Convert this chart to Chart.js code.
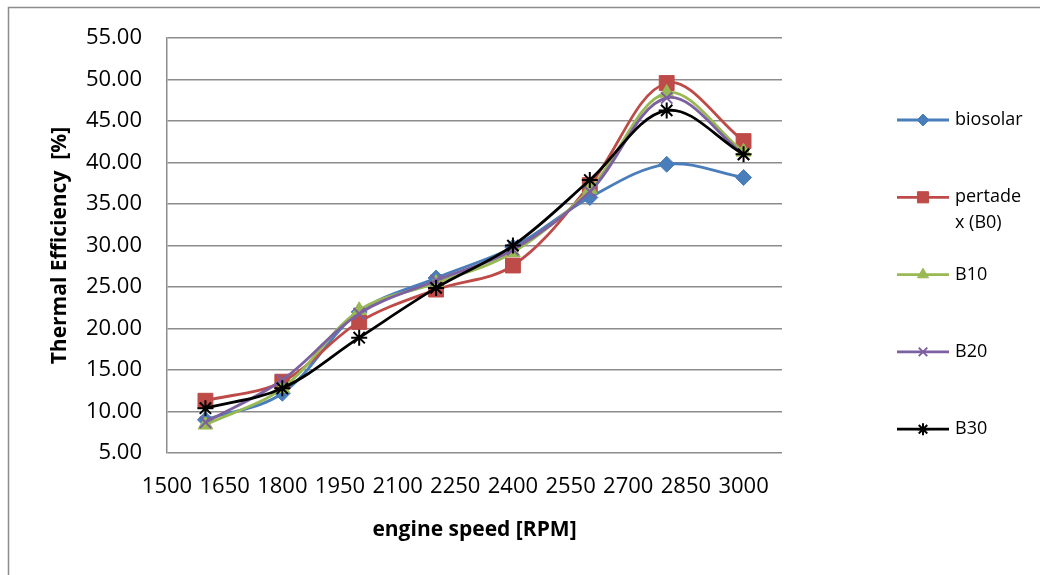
<!DOCTYPE html>
<html lang="en">
<head>
    <meta charset="UTF-8">
    <title>Thermal Efficiency vs Engine Speed</title>
    <style>
        body {
            margin: 0;
            background: #ffffff;
        }

        .chart-box {
            position: relative;
            width: 1040px;
            height: 575px;
        }
    </style>
</head>
<body>
    <div class="chart-box">
        <canvas id="efficiencyChart" width="1040" height="575"></canvas>
    </div>

    <script src="https://cdn.jsdelivr.net/npm/chart.js"></script>
    <script>
        // engine speed (RPM) for every measured point
        const rpm = [1600, 1800, 2000, 2200, 2400, 2600, 2800, 3000];

        // tick labels shown under the x axis
        const xTicks = [1500, 1650, 1800, 1950, 2100, 2250, 2400, 2550, 2700, 2850, 3000];

        const seriesNames = ["biosolar", "pertadex (B0)", "B10", "B20", "B30"];

        // thermal efficiency [%]
        const biosolar = [9.0, 12.2, 22.0, 26.1, 29.8, 35.8, 39.8, 38.2];
        const pertadex = [11.3, 13.6, 20.8, 24.7, 27.6, 37.3, 49.6, 42.6];
        const b10 = [8.4, 12.8, 22.2, 25.5, 29.2, 36.8, 48.4, 41.3];
        const b20 = [8.7, 13.8, 21.8, 25.8, 29.5, 36.5, 47.8, 41.0];
        const b30 = [10.4, 12.8, 18.9, 24.9, 30.0, 37.9, 46.3, 41.0];

        const gridGray = "#8c8c8c";
        const fontFamily = "'Open Sans', 'DejaVu Sans', sans-serif";

        const styles = [
            { color: "#4a7ebb", point: "rectRot", radius: 8 },
            { color: "#be4b48", point: "rect", radius: 10.5 },
            { color: "#98b954", point: "triangle", radius: 8.5 },
            { color: "#7d60a0", point: "crossRot", radius: 8 },
            { color: "#000000", point: "star", radius: 8 }
        ];

        const allValues = [biosolar, pertadex, b10, b20, b30];

        const datasets = allValues.map((values, i) => ({
            label: seriesNames[i],
            data: values.map((v, j) => ({ x: rpm[j], y: v })),
            borderColor: styles[i].color,
            backgroundColor: styles[i].color,
            pointStyle: styles[i].point,
            pointRadius: styles[i].radius,
            pointBorderWidth: styles[i].point === "crossRot" || styles[i].point === "star" ? 2 : 1,
            borderWidth: 2.8,
            tension: 0.35,
            fill: false,
            order: allValues.length - i
        }));

        // frame around the whole chart
        const framePlugin = {
            id: "frame",
            beforeDraw(chart) {
                const ctx = chart.ctx;
                ctx.save();
                ctx.strokeStyle = gridGray;
                ctx.lineWidth = 1.5;
                ctx.beginPath();
                ctx.moveTo(8.5, chart.height + 5);
                ctx.lineTo(8.5, 7.5);
                ctx.lineTo(chart.width + 5, 7.5);
                ctx.stroke();
                ctx.restore();
            }
        };

        function wrapText(ctx, text, maxWidth) {
            const lines = [];
            let line = "";
            for (const ch of text) {
                const test = line + ch;
                if (ctx.measureText(test).width > maxWidth && line !== "") {
                    lines.push(line.trimEnd());
                    line = ch === " " ? "" : ch;
                } else {
                    line = test;
                }
            }
            if (line) lines.push(line);
            return lines;
        }

        // legend on the right, spaced like the original
        const sideLegend = {
            id: "sideLegend",
            afterDraw(chart) {
                const ctx = chart.ctx;
                const lineStart = 897;
                const lineEnd = 949;
                const textX = 955;
                const firstY = 120;
                const gap = 77.3;
                ctx.save();
                ctx.font = "18px " + fontFamily;
                ctx.textBaseline = "middle";
                chart.data.datasets.forEach((ds, i) => {
                    const y = firstY + gap * i;
                    ctx.strokeStyle = ds.borderColor;
                    ctx.lineWidth = 2.8;
                    ctx.beginPath();
                    ctx.moveTo(lineStart, y);
                    ctx.lineTo(lineEnd, y);
                    ctx.stroke();
                    ctx.fillStyle = ds.backgroundColor;
                    ctx.strokeStyle = ds.borderColor;
                    ctx.lineWidth = ds.pointBorderWidth;
                    Chart.helpers.drawPoint(ctx, {
                        pointStyle: ds.pointStyle,
                        radius: ds.pointRadius * 0.75,
                        rotation: 0,
                        borderWidth: ds.pointBorderWidth
                    }, (lineStart + lineEnd) / 2, y);
                    ctx.fillStyle = "#000000";
                    const lines = wrapText(ctx, ds.label, 72);
                    lines.forEach((t, k) => ctx.fillText(t, textX, y + k * 26));
                });
                ctx.restore();
            }
        };

        new Chart(document.getElementById("efficiencyChart"), {
            type: "line",
            data: { datasets: datasets },
            plugins: [framePlugin, sideLegend],
            options: {
                responsive: false,
                animation: false,
                layout: {
                    padding: { top: 36, right: 258, left: 0, bottom: 0 }
                },
                plugins: {
                    legend: { display: false },
                    tooltip: { enabled: false }
                },
                scales: {
                    x: {
                        type: "linear",
                        min: 1500,
                        max: 3100,
                        afterBuildTicks(axis) {
                            axis.ticks = xTicks.map(v => ({ value: v }));
                        },
                        afterFit(scale) {
                            scale.height = 122;
                        },
                        ticks: {
                            autoSkip: false,
                            maxRotation: 0,
                            padding: 21,
                            color: "#000000",
                            font: { family: fontFamily, size: 22 },
                            callback: v => String(v)
                        },
                        grid: { display: false, drawTicks: false },
                        border: { display: false },
                        title: {
                            display: true,
                            text: "engine speed [RPM]",
                            color: "#000000",
                            font: { family: fontFamily, size: 21, weight: "bold" },
                            padding: { top: 0, bottom: 32 }
                        }
                    },
                    y: {
                        min: 5,
                        max: 55,
                        afterFit(scale) {
                            scale.width = 167;
                        },
                        ticks: {
                            stepSize: 5,
                            padding: 25,
                            color: "#000000",
                            font: { family: fontFamily, size: 22 },
                            callback: v => Number(v).toFixed(2)
                        },
                        grid: {
                            color: gridGray,
                            lineWidth: 1.5,
                            drawTicks: false
                        },
                        border: { color: gridGray, width: 1.5 },
                        title: {
                            display: true,
                            text: "Thermal Efficiency  [%]",
                            color: "#000000",
                            font: { family: fontFamily, size: 21, weight: "bold" },
                            padding: { top: 47, bottom: 0 }
                        }
                    }
                }
            }
        });
    </script>
</body>
</html>
